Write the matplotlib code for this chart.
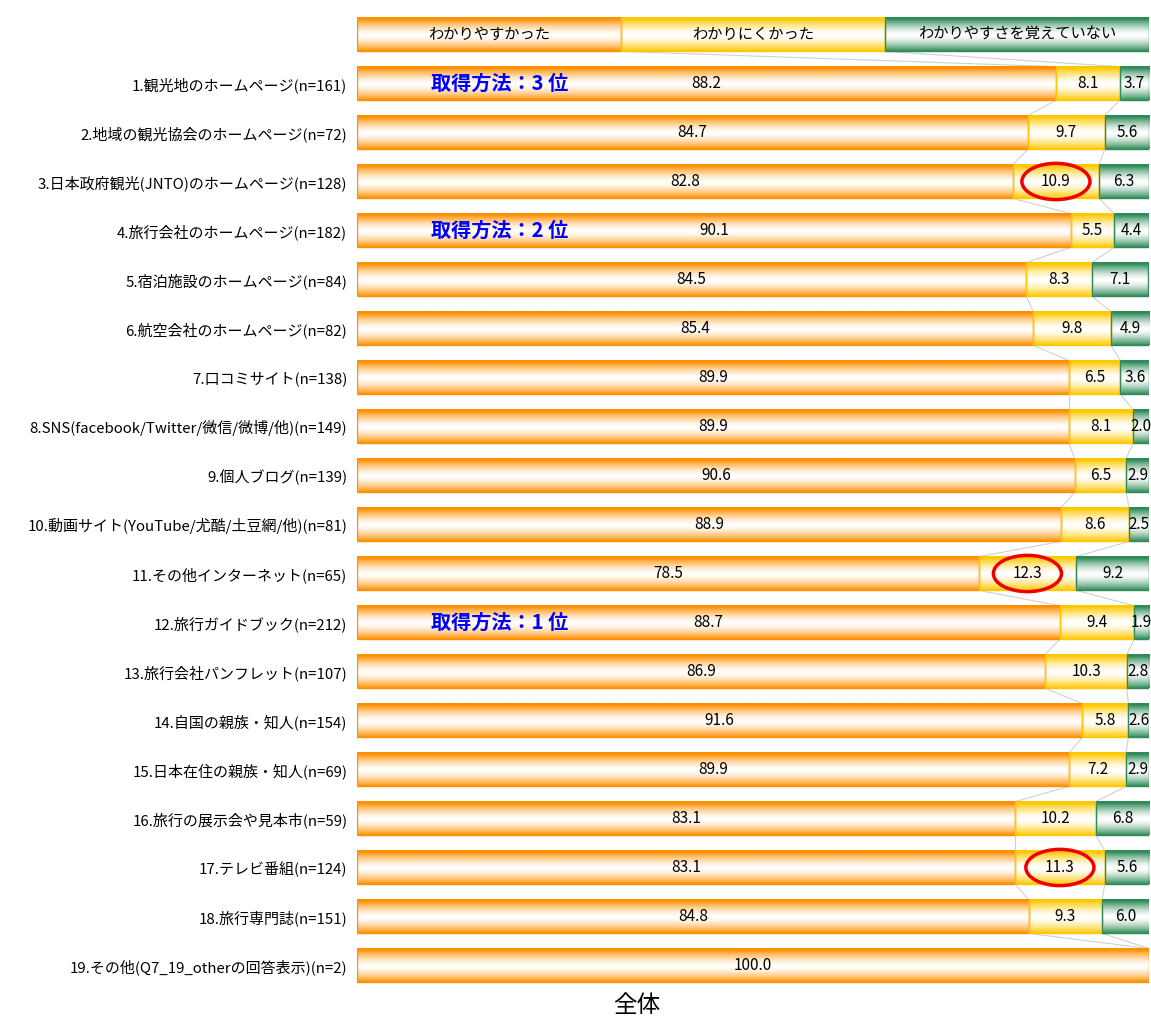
import numpy as np
import matplotlib
matplotlib.use("Agg")
import matplotlib.pyplot as plt
from matplotlib.colors import LinearSegmentedColormap
from matplotlib.patches import Ellipse, Rectangle

plt.rcParams['font.family'] = ['Noto Sans CJK JP', 'DejaVu Sans']

# ---- data ----
categories = [
    "1.観光地のホームページ(n=161)",
    "2.地域の観光協会のホームページ(n=72)",
    "3.日本政府観光(JNTO)のホームページ(n=128)",
    "4.旅行会社のホームページ(n=182)",
    "5.宿泊施設のホームページ(n=84)",
    "6.航空会社のホームページ(n=82)",
    "7.口コミサイト(n=138)",
    "8.SNS(facebook/Twitter/微信/微博/他)(n=149)",
    "9.個人ブログ(n=139)",
    "10.動画サイト(YouTube/尤酷/土豆網/他)(n=81)",
    "11.その他インターネット(n=65)",
    "12.旅行ガイドブック(n=212)",
    "13.旅行会社パンフレット(n=107)",
    "14.自国の親族・知人(n=154)",
    "15.日本在住の親族・知人(n=69)",
    "16.旅行の展示会や見本市(n=59)",
    "17.テレビ番組(n=124)",
    "18.旅行専門誌(n=151)",
    "19.その他(Q7_19_otherの回答表示)(n=2)",
]
easy = [88.2, 84.7, 82.8, 90.1, 84.5, 85.4, 89.9, 89.9, 90.6, 88.9,
        78.5, 88.7, 86.9, 91.6, 89.9, 83.1, 83.1, 84.8, 100.0]
hard = [8.1, 9.7, 10.9, 5.5, 8.3, 9.8, 6.5, 8.1, 6.5, 8.6,
        12.3, 9.4, 10.3, 5.8, 7.2, 10.2, 11.3, 9.3, 0.0]
not_remember = [3.7, 5.6, 6.3, 4.4, 7.1, 4.9, 3.6, 2.0, 2.9, 2.5,
                9.2, 1.9, 2.8, 2.6, 2.9, 6.8, 5.6, 6.0, 0.0]
series_names = ["わかりやすかった", "わかりにくかった", "わかりやすさを覚えていない"]
series_colors = ["#FF9000", "#FFC800", "#2E8B57"]

# ranking notes (row number -> rank) and highlighted cells (row number)
rank_rows = {1: 3, 4: 2, 12: 1}
highlight_rows = [3, 11, 17]

# ---- figure ----
W, H = 1151, 1019
fig = plt.figure(figsize=(W / 100, H / 100), dpi=100)
ax = fig.add_axes([357 / W, 29 / H, 792 / W, 980 / H])
ax.set_xlim(0, 100)
ax.set_ylim(19.5, -0.5)
for s in ax.spines.values():
    s.set_visible(False)
ax.set_xticks([])

bar_h = 0.69

# vertical gradient: saturated at the edges, white in the middle
t = np.linspace(0, 1, 128)
profile = np.clip(np.abs(t - 0.53) / 0.48, 0, 1) ** 1.5
grad = profile.reshape(-1, 1)
cmaps = [LinearSegmentedColormap.from_list(f"g{i}", ["#FFFFFF", c])
         for i, c in enumerate(series_colors)]


def draw_segment(left, width, y, k):
    if width <= 0:
        return
    ax.imshow(grad, cmap=cmaps[k], vmin=0, vmax=1, aspect='auto',
              interpolation='bilinear', origin='upper',
              extent=[left, left + width, y + bar_h / 2, y - bar_h / 2],
              zorder=2)
    ax.add_patch(Rectangle((left, y - bar_h / 2), width, bar_h, fill=False,
                           edgecolor=series_colors[k], lw=1.0, zorder=3))


# header row acting as the legend
third = 100 / 3
for k, name in enumerate(series_names):
    draw_segment(k * third, third, 0, k)
    ax.text(k * third + third / 2, 0, name, ha='center', va='center',
            fontsize=11, color='black', zorder=5)

rows = list(range(1, len(categories) + 1))
values = [easy, hard, not_remember]
for i, r in enumerate(rows):
    left = 0.0
    for k in range(3):
        v = values[k][i]
        draw_segment(left, v, r, k)
        if v > 0:
            ax.text(left + v / 2, r, f"{v:.1f}", ha='center', va='center',
                    fontsize=11, color='black', zorder=5)
        left += v

# connector lines between consecutive bars
bounds = [[third, 2 * third]] + [[easy[i], easy[i] + hard[i]] for i in range(len(rows))]
ys = [0] + rows
for j in range(len(ys) - 1):
    for b in range(2):
        ax.plot([bounds[j][b], bounds[j + 1][b]],
                [ys[j] + bar_h / 2, ys[j + 1] - bar_h / 2],
                color='#D0D0D0', lw=0.8, zorder=1)

# ranking notes
for r, rank in rank_rows.items():
    ax.text(18, r, f"取得方法：{rank} 位", ha='center', va='center',
            fontsize=14.5, fontweight='bold', color='#0000FF', zorder=6)

# highlighted cells
for r in highlight_rows:
    i = r - 1
    cx = easy[i] + hard[i] / 2
    ax.add_patch(Ellipse((cx, r), 8.6, 0.74, fill=False, edgecolor='#EE0000',
                         lw=2.5, zorder=6))

ax.set_yticks(rows)
ax.set_yticklabels(categories, fontsize=10.8)
ax.tick_params(axis='y', length=0, pad=7)

fig.text(637 / W, 1 - 1005 / H, "全体", ha='center', va='center', fontsize=17)

fig.savefig("out.png", dpi=100)
